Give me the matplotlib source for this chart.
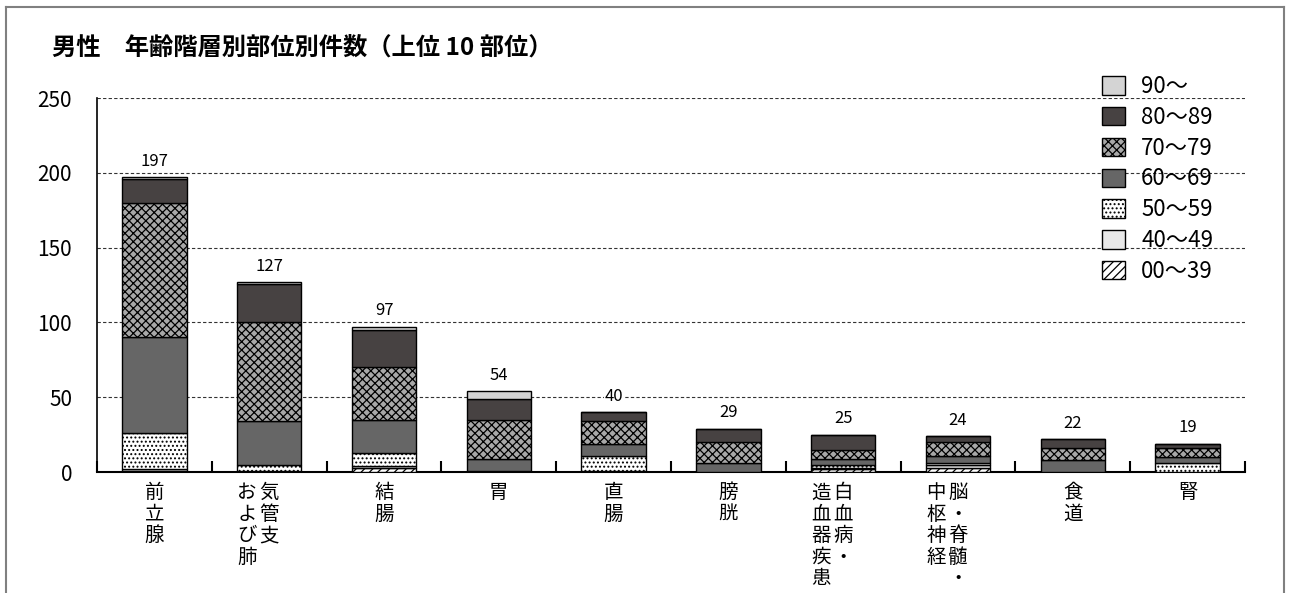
import matplotlib
matplotlib.use("Agg")
import matplotlib.pyplot as plt
import numpy as np
from matplotlib.lines import Line2D

plt.rcParams["font.family"] = ["Noto Sans CJK JP", "DejaVu Sans"]
plt.rcParams["hatch.linewidth"] = 0.9

title = "男性　年齢階層別部位別件数（上位 10 部位）"
sites = ["前立腺", "気管支および肺", "結腸", "胃", "直腸", "膀胱",
         "白血病・造血器疾患", "脳・脊髄・中枢神経", "食道", "腎"]
# vertical label columns, right column first
site_columns = [["前立腺"], ["気管支", "および肺"], ["結腸"], ["胃"], ["直腸"], ["膀胱"],
                ["白血病・", "造血器疾患"], ["脳・脊髄・", "中枢神経"], ["食道"], ["腎"]]

age_groups = ["00～39", "40～49", "50～59", "60～69", "70～79", "80～89", "90～"]
age_00_39 = [1, 0, 3, 0, 1, 0, 2, 3, 0, 0]
age_40_49 = [1, 1, 1, 0, 0, 0, 1, 2, 0, 0]
age_50_59 = [24, 4, 9, 1, 10, 0, 2, 1, 0, 6]
age_60_69 = [64, 29, 22, 8, 8, 6, 4, 5, 8, 4]
age_70_79 = [90, 66, 35, 26, 15, 14, 6, 9, 8, 6]
age_80_89 = [16, 26, 25, 14, 6, 9, 10, 4, 6, 3]
age_90 = [1, 1, 2, 5, 0, 0, 0, 0, 0, 0]

series = [age_00_39, age_40_49, age_50_59, age_60_69, age_70_79, age_80_89, age_90]
styles = [
    dict(color="white", hatch="////"),
    dict(color="#e8e8e8", hatch=None),
    dict(color="white", hatch="...."),
    dict(color="#666666", hatch=None),
    dict(color="#a8a8a8", hatch="xxxx"),
    dict(color="#474242", hatch=None),
    dict(color="#d4d4d4", hatch=None),
]

fig = plt.figure(figsize=(12.92, 5.93), dpi=100)
fig.patch.set_facecolor("white")
ax = fig.add_axes([0.0751, 0.2040, 0.8885, 0.6307])

x = np.arange(len(sites))
bottom = np.zeros(len(sites))
handles = []
for label, values, style in zip(age_groups, series, styles):
    bars = ax.bar(x, values, width=0.56, bottom=bottom, color=style["color"],
                  hatch=style["hatch"], edgecolor="black", linewidth=1.0,
                  label=label, zorder=3)
    handles.append(bars)
    bottom += np.array(values)

for i, total in enumerate(bottom):
    ax.text(i, total + 5, f"{int(total)}", ha="center", va="bottom", fontsize=12,
            zorder=4, bbox=dict(facecolor="white", edgecolor="none", pad=0.5))

ax.set_xlim(-0.5, len(sites) - 0.5)
ax.set_ylim(0, 250)
ax.set_yticks(np.arange(0, 251, 50))
ax.tick_params(axis="y", length=0, labelsize=15, pad=18)
ax.yaxis.grid(True, linestyle=(0, (3, 2)), color="#333333", linewidth=0.8)
ax.set_axisbelow(True)

ax.set_xticks(np.arange(len(sites) + 1) - 0.5)
ax.set_xticklabels([])
ax.tick_params(axis="x", direction="in", length=8, width=1.5)
for spine in ["top", "right"]:
    ax.spines[spine].set_visible(False)
ax.spines["bottom"].set_linewidth(1.5)
ax.spines["left"].set_linewidth(1.2)

# vertical (tategaki) category labels
step = 21.5 * 0.72
col_gap = 22 * 0.72
for i, columns in enumerate(site_columns):
    for c, col in enumerate(columns):
        for r, ch in enumerate(col):
            ax.annotate(ch, xy=(i, 0), xycoords="data",
                        xytext=(-c * col_gap, -15 - r * step), textcoords="offset points",
                        ha="center", va="center", fontsize=14, annotation_clip=False)

legend = ax.legend(handles[::-1], age_groups[::-1], loc="upper left",
                   bbox_to_anchor=(1091 / 1292, 1 - 64 / 593), bbox_transform=fig.transFigure,
                   frameon=False, fontsize=16, borderpad=0, labelspacing=0.35,
                   handlelength=1.05, handleheight=0.9, handletextpad=0.7)

fig.text(52 / 1292, 1 - 48 / 593, title, fontsize=17.5, fontweight="bold",
         ha="left", va="center")

# outer frame (bottom edge is cut off)
frame_color = "#808080"
fig.add_artist(Line2D([6 / 1292, 6 / 1292], [0, 1 - 7 / 593], transform=fig.transFigure,
                      color=frame_color, linewidth=1.5))
fig.add_artist(Line2D([6 / 1292, 1284 / 1292], [1 - 7 / 593, 1 - 7 / 593],
                      transform=fig.transFigure, color=frame_color, linewidth=1.5))
fig.add_artist(Line2D([1284 / 1292, 1284 / 1292], [0, 1 - 7 / 593], transform=fig.transFigure,
                      color=frame_color, linewidth=1.5))

fig.savefig("out.png", dpi=100, facecolor="white")
